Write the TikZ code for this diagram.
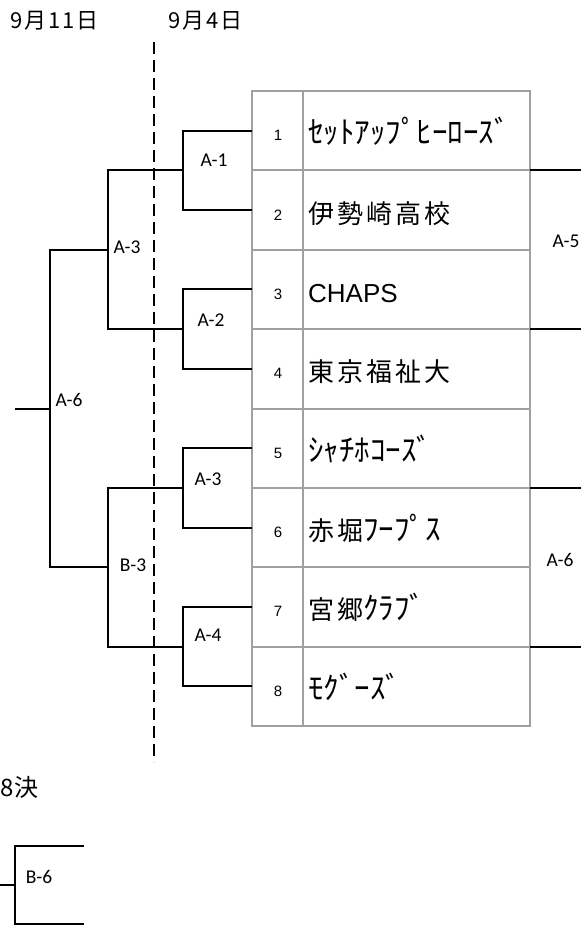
\documentclass[tikz,border=0pt]{standalone}
\usepackage{fontspec}
\newfontfamily\jpfont{Noto Sans CJK JP}
\newfontfamily\jpsp[LetterSpace=11.5]{Noto Sans CJK JP}
\newfontfamily\hdfont[LetterSpace=9]{Noto Sans CJK JP}
\newfontfamily\arfont{Liberation Sans}
\newfontfamily\clfont{Carlito}
\newcommand{\hk}[1]{{\jpfont\fontsize{31}{31}\selectfont #1}}
\definecolor{gridgray}{RGB}{160,160,160}
\begin{document}
\begin{tikzpicture}[x=1pt,y=-1pt,
  br/.style={line width=2pt, black},
  gridline/.style={line width=2pt, color=gridgray},
  lbl/.style={font=\clfont\fontsize{19.5}{19.5}\selectfont, inner sep=0pt},
  num/.style={font=\arfont\fontsize{15}{15}\selectfont, anchor=base, inner sep=0pt},
  team/.style={font=\jpsp\fontsize{26}{26}\selectfont, anchor=base west, inner sep=0pt},
  teamlat/.style={font=\arfont\fontsize{26}{26}\selectfont, anchor=base west, inner sep=0pt},
  hd/.style={font=\hdfont\fontsize{22}{22}\selectfont, anchor=base west, inner sep=0pt},
  dashline/.style={line width=2pt, black, dash pattern=on 12pt off 6pt}]
\useasboundingbox (0,0) rectangle (581,926);

% headers
\node[hd] (h1) at (10,28) {9月11日};
\node[hd] (h2) at (168,28) {9月4日};

% dashed divider
\coordinate (dtop) at (154,42);
\coordinate (dbot) at (154,762);
\draw[dashline] (dtop) -- (dbot);

% table
\draw[gridline] (252,91) rectangle (530,726);
\foreach \i in {1,...,7} \draw[gridline] (252,{91+79.375*\i}) -- (530,{91+79.375*\i});
\draw[gridline] (303,91) -- (303,726);

% row numbers
\foreach \i in {1,...,8} \node[num] (n\i) at (278,{91+79.375*(\i-0.5)+10}) {\i};

% team names
\node[team] (t1) at (308,{130.7+13}) {\hk{ｾｯﾄｱｯﾌﾟﾋｰﾛｰｽﾞ}};
\node[team] (t2) at (308,{210.1+13}) {伊勢崎高校};
\node[teamlat] (t3) at (308,{289.4+13}) {CHAPS};
\node[team] (t4) at (308,{368.8+13}) {東京福祉大};
\node[team] (t5) at (308,{448.2+13}) {\hk{ｼｬﾁﾎｺｰｽﾞ}};
\node[team] (t6) at (308,{527.6+13}) {赤堀\hk{ﾌｰﾌﾟｽ}};
\node[team] (t7) at (308,{606.9+13}) {宮郷\hk{ｸﾗﾌﾞ}};
\node[team] (t8) at (308,{686.3+13}) {\hk{ﾓｸﾞｰｽﾞ}};

% row anchor points on table's left edge
\foreach \i in {1,...,8} \coordinate (r\i) at (252,{91+79.375*(\i-0.5)});

% bracket joints
\coordinate (a1) at (183,170.4);
\coordinate (a2) at (183,329.1);
\coordinate (a3) at (183,487.9);
\coordinate (a4) at (183,646.6);
\coordinate (b1) at (108,170.4);
\coordinate (b2) at (108,329.1);
\coordinate (b3) at (108,487.9);
\coordinate (b4) at (108,646.6);
\coordinate (c1) at (108,249.75);
\coordinate (c2) at (108,567.25);
\coordinate (d1) at (50,249.75);
\coordinate (d2) at (50,567.25);
\coordinate (e1) at (50,408.5);
\coordinate (f1) at (15,408.5);

\draw[br] (r1) -| (a1) |- (r2);
\draw[br] (r3) -| (a2) |- (r4);
\draw[br] (r5) -| (a3) |- (r6);
\draw[br] (r7) -| (a4) |- (r8);
\draw[br] (a1) -- (b1) -- (b2) -- (a2);
\draw[br] (a3) -- (b3) -- (b4) -- (a4);
\draw[br] (c1) -- (d1) -- (d2) -- (c2);
\draw[br] (e1) -- (f1);

% left labels
\node[lbl] (lA1) at (214,160) {A-1};
\node[lbl] (lA2) at (211,320) {A-2};
\node[lbl] (lA3a) at (127,247) {A-3};
\node[lbl] (lA6) at (69,400) {A-6};
\node[lbl] (lA3b) at (208,479) {A-3};
\node[lbl] (lB3) at (133,565) {B-3};
\node[lbl] (lA4) at (208,635) {A-4};

% right side brackets
\coordinate (s1) at (530,170.4);
\coordinate (s1e) at (581,170.4);
\coordinate (s2) at (530,329.1);
\coordinate (s2e) at (581,329.1);
\coordinate (s3) at (530,487.9);
\coordinate (s3e) at (581,487.9);
\coordinate (s4) at (530,646.6);
\coordinate (s4e) at (581,646.6);
\draw[br] (s1) -- (s1e);
\draw[br] (s2) -- (s2e);
\draw[br] (s3) -- (s3e);
\draw[br] (s4) -- (s4e);
\node[lbl] (lA5) at (566,241) {A-5};
\node[lbl] (lA6r) at (560,560) {A-6};

% bottom
\node[font=\jpfont\fontsize{24}{24}\selectfont, anchor=base west, inner sep=0pt] (k8) at (0.5,796) {8決};
\coordinate (g1) at (84,846);
\coordinate (g2) at (15,846);
\coordinate (g3) at (15,924);
\coordinate (g4) at (84,924);
\coordinate (g5) at (15,885);
\coordinate (g6) at (0,885);
\draw[br] (g1) -- (g2) -- (g3) -- (g4);
\draw[br] (g5) -- (g6);
\node[lbl] (lB6) at (39,877) {B-6};
\end{tikzpicture}
\end{document}
